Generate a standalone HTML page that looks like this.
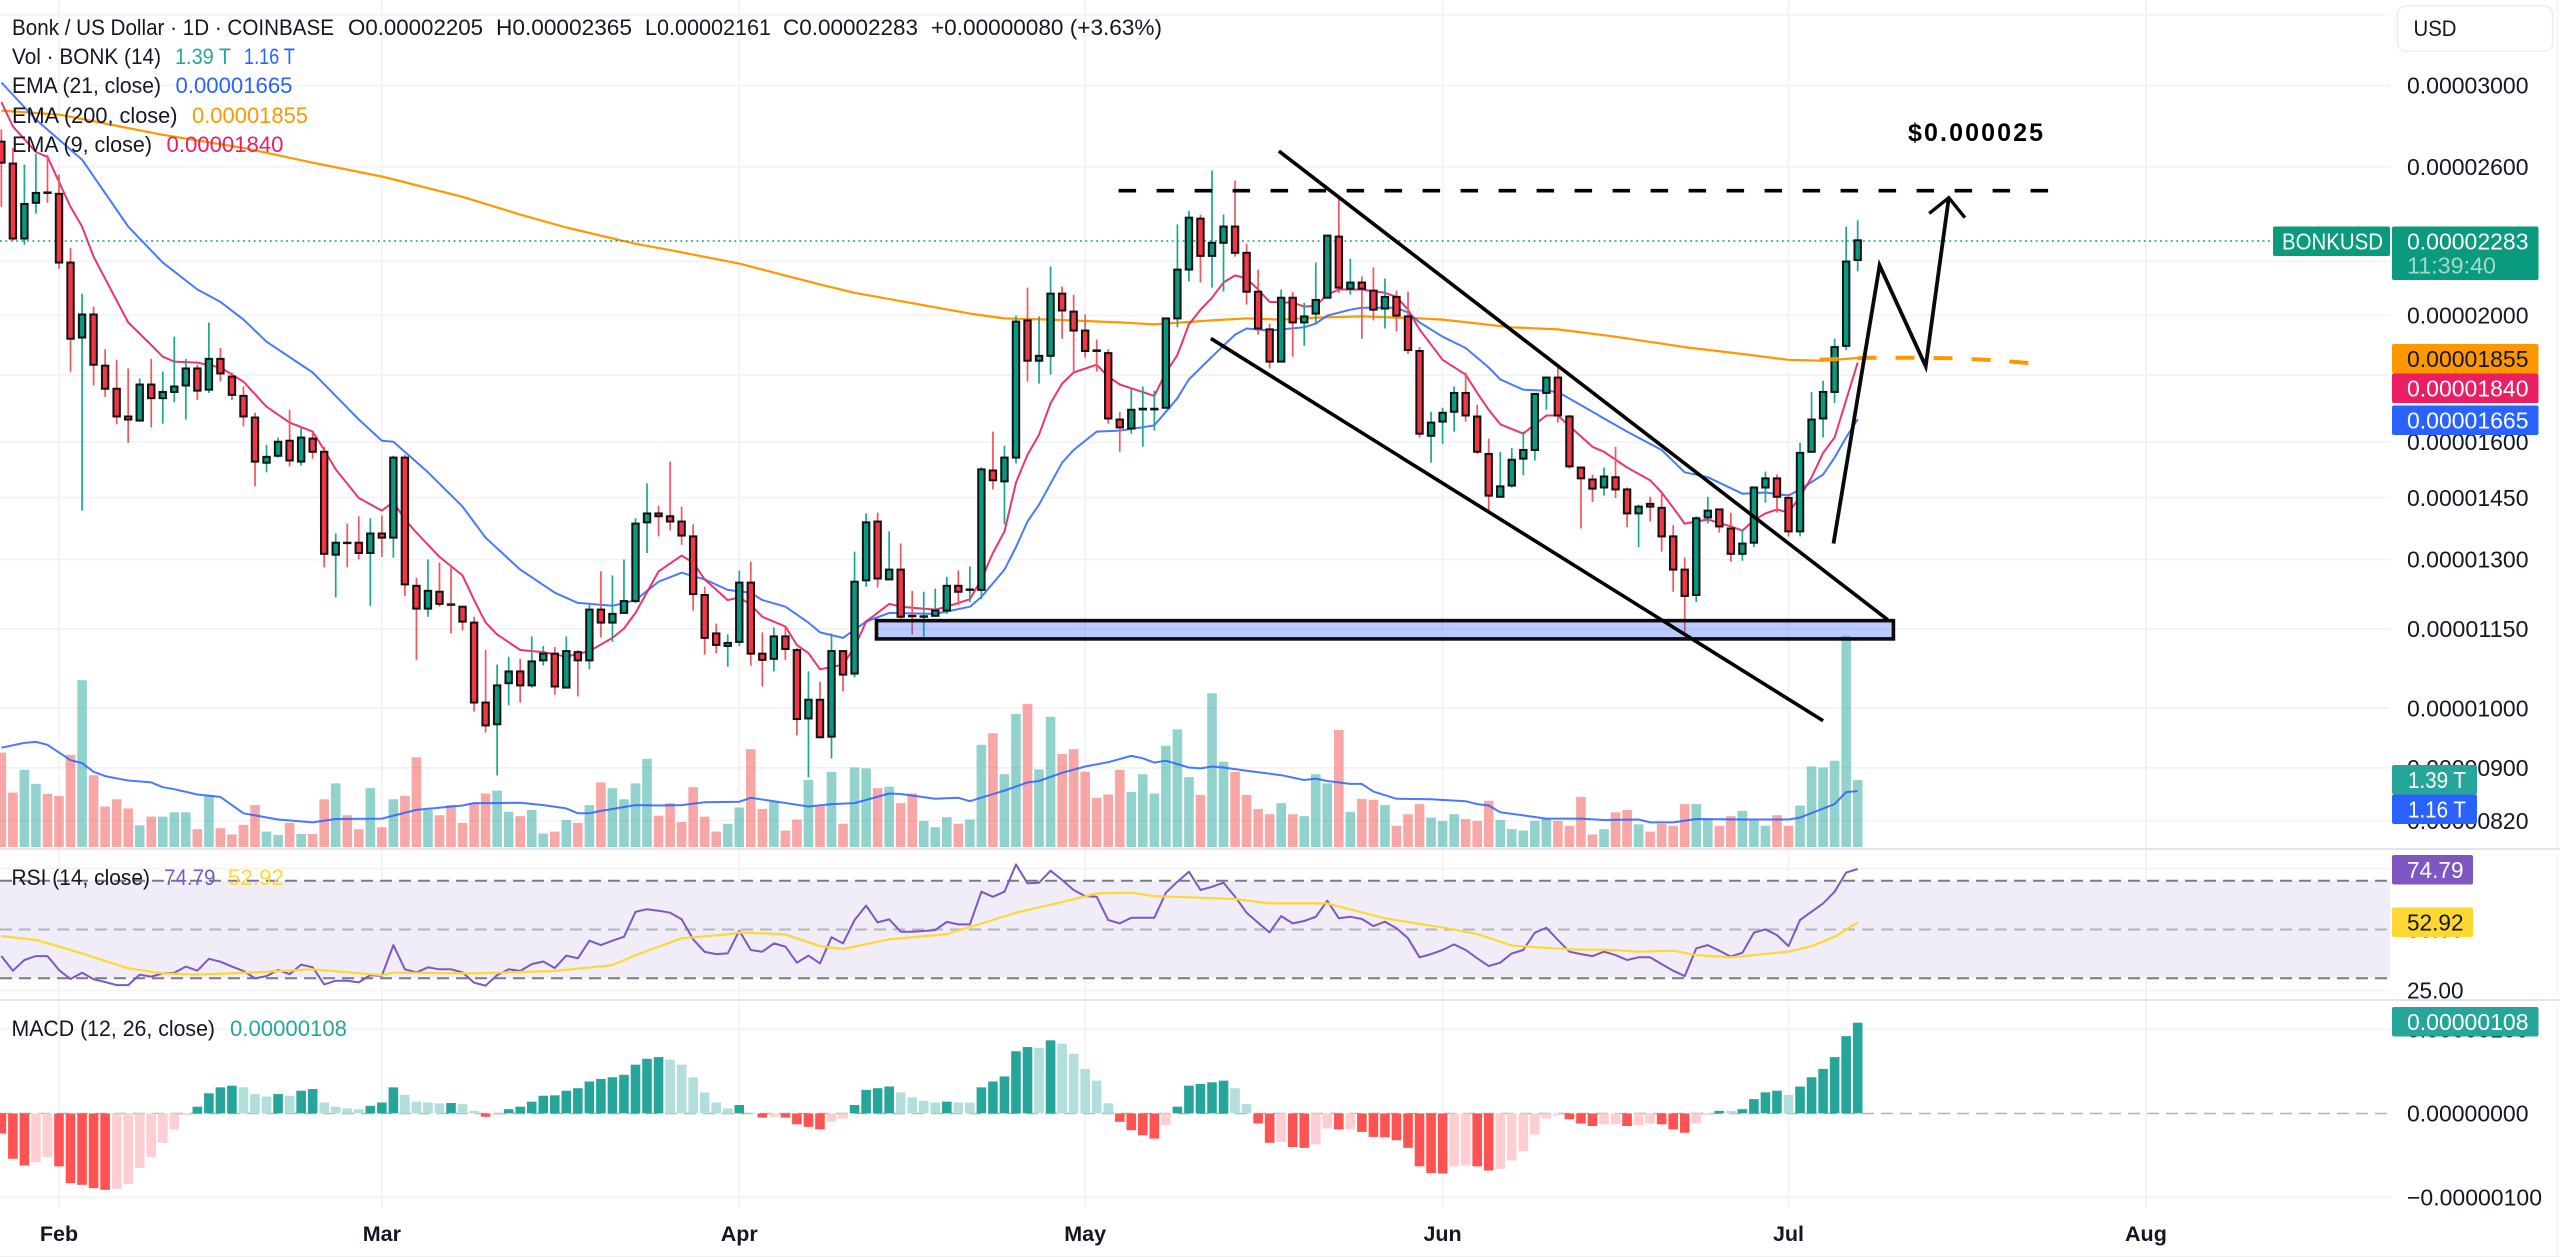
<!DOCTYPE html>
<html lang="en">
<head>
<meta charset="utf-8">
<title>Bonk / US Dollar chart</title>
<style>
html,body{margin:0;padding:0;background:#fff;}
svg{display:block;font-family:"Liberation Sans",sans-serif;}
text{fill:#131722;font-size:22px;}
</style>
</head>
<body>
<svg id="chart" xmlns="http://www.w3.org/2000/svg" width="2560" height="1257" viewBox="0 0 2560 1257">
<rect x="0" y="0" width="2560" height="1257" fill="#ffffff"/>
<g id="grid"></g>
<rect x="0" y="880.7" width="2390" height="97.6" fill="#f0edf8"/>
<g id="rsiLevels"></g>
<line x1="0" x2="2390" y1="1113.5" y2="1113.5" stroke="#b2b5be" stroke-width="1.6" stroke-dasharray="12 7"/>
<g id="volumeBars"></g>
<g id="lines"></g>
<line x1="0" x2="2273" y1="241" y2="241" stroke="#089981" stroke-width="1.6" stroke-dasharray="1.8 3.6"/>
<g id="candles"></g>
<g id="macdBars"></g>
<g id="rsiLines"></g>
<g id="drawings"></g>
<text x="1908" y="141" textLength="135" lengthAdjust="spacing" style="font-size:25px;font-weight:bold;fill:#000">$0.000025</text>

<g>
<text x="12" y="35" textLength="322" lengthAdjust="spacingAndGlyphs">Bonk / US Dollar · 1D · COINBASE</text>
<text x="348" y="35" textLength="135" lengthAdjust="spacingAndGlyphs">O0.00002205</text>
<text x="496" y="35" textLength="136" lengthAdjust="spacingAndGlyphs">H0.00002365</text>
<text x="645" y="35" textLength="126" lengthAdjust="spacingAndGlyphs">L0.00002161</text>
<text x="783" y="35" textLength="135" lengthAdjust="spacingAndGlyphs">C0.00002283</text>
<text x="931" y="35" textLength="231" lengthAdjust="spacingAndGlyphs">+0.00000080 (+3.63%)</text>
<text x="12" y="64" textLength="149" lengthAdjust="spacingAndGlyphs">Vol · BONK (14)</text>
<text x="175" y="64" textLength="56" lengthAdjust="spacingAndGlyphs" style="fill:#26a69a">1.39 T</text>
<text x="244" y="64" textLength="51" lengthAdjust="spacingAndGlyphs" style="fill:#2962ff">1.16 T</text>
<text x="12" y="93" textLength="149" lengthAdjust="spacingAndGlyphs">EMA (21, close)</text>
<text x="175.5" y="93" textLength="117" lengthAdjust="spacingAndGlyphs" style="fill:#2962ff">0.00001665</text>
<text x="12" y="123" textLength="165.5" lengthAdjust="spacingAndGlyphs">EMA (200, close)</text>
<text x="192" y="123" textLength="116" lengthAdjust="spacingAndGlyphs" style="fill:#ff9800">0.00001855</text>
<text x="12" y="152" textLength="140" lengthAdjust="spacingAndGlyphs">EMA (9, close)</text>
<text x="166.5" y="152" textLength="117" lengthAdjust="spacingAndGlyphs" style="fill:#e91e63">0.00001840</text>
</g>
<g>
<text x="11.5" y="885" textLength="138.5" lengthAdjust="spacingAndGlyphs">RSI (14, close)</text>
<text x="164" y="885" textLength="51.5" lengthAdjust="spacingAndGlyphs" style="fill:#7e57c2">74.79</text>
<text x="228" y="885" textLength="56" lengthAdjust="spacingAndGlyphs" style="fill:#fdd835">52.92</text>
</g>
<g>
<text x="11.5" y="1036" textLength="203.5" lengthAdjust="spacingAndGlyphs">MACD (12, 26, close)</text>
<text x="230" y="1036" textLength="117" lengthAdjust="spacingAndGlyphs" style="fill:#26a69a">0.00000108</text>
</g>

<g id="axisLabels"></g>

<rect x="2397.5" y="6" width="155" height="45" rx="8" fill="#fff" stroke="#ededf0" stroke-width="1.5"/>
<text x="2413.5" y="36" textLength="43" lengthAdjust="spacingAndGlyphs">USD</text>

<g>
<rect x="2273" y="226.5" width="117" height="29.5" rx="2" fill="#0a9a7e"/>
<text x="2282" y="249.5" textLength="101" lengthAdjust="spacingAndGlyphs" style="fill:#fff;font-size:23px">BONKUSD</text>
<rect x="2392" y="226.5" width="146.5" height="53.5" rx="2" fill="#0a9a7e"/>
<text x="2407" y="249.5" textLength="121.5" lengthAdjust="spacingAndGlyphs" style="fill:#fff;font-size:23px">0.00002283</text>
<text x="2407" y="273.5" textLength="89" lengthAdjust="spacingAndGlyphs" style="fill:#9fd9cb;font-size:23px">11:39:40</text>
<rect x="2392" y="344" width="146.5" height="29.5" rx="2" fill="#ff9800"/>
<text x="2407" y="367" textLength="121.5" lengthAdjust="spacingAndGlyphs" style="fill:#131722;font-size:23px">0.00001855</text>
<rect x="2392" y="373.5" width="146.5" height="29.5" rx="2" fill="#e91e63"/>
<text x="2407" y="396.5" textLength="121.5" lengthAdjust="spacingAndGlyphs" style="fill:#fff;font-size:23px">0.00001840</text>
<rect x="2392" y="405.5" width="146.5" height="29.5" rx="2" fill="#2962ff"/>
<text x="2407" y="428.5" textLength="121.5" lengthAdjust="spacingAndGlyphs" style="fill:#fff;font-size:23px">0.00001665</text>
<rect x="2392" y="765" width="85" height="29.5" rx="2" fill="#26a69a"/>
<text x="2408" y="788" textLength="58" lengthAdjust="spacingAndGlyphs" style="fill:#fff;font-size:23px">1.39 T</text>
<rect x="2392" y="794.5" width="85" height="29.5" rx="2" fill="#2962ff"/>
<text x="2408" y="817.5" textLength="58" lengthAdjust="spacingAndGlyphs" style="fill:#fff;font-size:23px">1.16 T</text>
<rect x="2392" y="855" width="81" height="29.5" rx="2" fill="#7e57c2"/>
<text x="2407" y="878" textLength="56.5" lengthAdjust="spacingAndGlyphs" style="fill:#fff;font-size:23px">74.79</text>
<rect x="2392" y="907.5" width="81" height="29.5" rx="2" fill="#fdd835"/>
<text x="2407" y="930.5" textLength="56.5" lengthAdjust="spacingAndGlyphs" style="fill:#131722;font-size:23px">52.92</text>
<rect x="2392" y="1007" width="146.5" height="29.5" rx="2" fill="#26a69a"/>
<text x="2407" y="1030" textLength="121.5" lengthAdjust="spacingAndGlyphs" style="fill:#fff;font-size:23px">0.00000108</text>
</g>

<line x1="0" x2="2560" y1="849" y2="849" stroke="#e4e4ee" stroke-width="2"/>
<line x1="0" x2="2560" y1="1000" y2="1000" stroke="#e4e4ee" stroke-width="2"/>
<line x1="0" x2="2560" y1="1256.5" y2="1256.5" stroke="#f0f0f3" stroke-width="1"/>
<line x1="2557.5" x2="2557.5" y1="0" y2="1257" stroke="#f3f3f5" stroke-width="1"/>
</svg>

<script>
// All prices are in units of 0.00000001 USD. Index 0 of each daily array is 27 Jan (day -5 relative to 1 Feb).
const firstDay = -5;
const opens = [
2717,2614,2290,2439,2484,2478,2195,1923,2003,1830,
1757,1673,1661,1770,1728,1747,1767,1821,1754,1852,
1795,1735,1670,1542,1561,1603,1545,1609,1572,1311,
1339,1339,1315,1361,1351,1556,1241,1192,1228,1201,
1196,1163,1010,972,1045,1067,1041,1088,1101,1037,
1104,1088,1190,1163,1183,1208,1388,1410,1403,1390,
1354,1221,1141,1116,1124,1248,1101,1091,1135,1108,
982,1015,951,1106,1063,1253,1390,1255,1277,1177,
1175,1177,1188,1241,1232,1232,1521,1492,1556,1982,
1846,1862,2078,2013,1947,1880,1871,1664,1638,1694,
1694,1699,1989,2168,2372,2221,2273,2339,2233,2085,
1951,1843,2063,1975,2006,2063,2298,2096,2119,2089,
2024,2066,1996,1878,1617,1658,1687,1744,1673,1566,
1452,1481,1553,1577,1744,1792,1673,1529,1497,1476,
1503,1471,1410,1434,1424,1354,1277,1221,1400,1420,
1373,1313,1339,1476,1500,1449,1366,1572,1667,1747,1895,2205];
const highs = [
2776,2687,2609,2659,2654,2564,2252,2078,2031,1884,
1849,1821,1789,1852,1811,1926,1852,1833,1975,1888,
1808,1764,1684,1591,1612,1693,1644,1629,1586,1361,
1385,1403,1398,1405,1561,1564,1259,1300,1293,1288,
1198,1175,1108,1080,1095,1091,1135,1116,1114,1135,
1108,1200,1273,1264,1300,1398,1487,1429,1545,1427,
1383,1239,1161,1139,1275,1295,1143,1153,1153,1112,
1067,1048,1141,1108,1318,1410,1412,1366,1337,1230,
1228,1235,1261,1275,1284,1529,1629,1589,1999,2100,
1996,2180,2104,2074,2003,1916,1884,1687,1757,1764,
1751,1989,2348,2405,2389,2582,2389,2537,2269,2168,
1971,2093,2085,2045,2195,2302,2465,2210,2142,2176,
2134,2089,2085,1891,1687,1699,1764,1808,1708,1609,
1572,1583,1629,1741,1795,1830,1678,1529,1510,1529,
1586,1476,1432,1452,1463,1381,1304,1403,1452,1422,
1412,1371,1479,1518,1510,1460,1597,1747,1782,1919,2339,2365];
const lows = [
2422,2281,2265,2393,2439,2172,1811,1417,1767,1732,
1650,1597,1658,1641,1652,1716,1664,1722,1744,1779,
1722,1644,1479,1516,1556,1532,1534,1553,1282,1216,
1282,1300,1198,1306,1304,1219,1089,1175,1196,1141,
1147,994,958,888,1005,1010,1037,1078,1024,1037,
1021,1071,1133,1124,1183,1204,1315,1354,1368,1334,
1188,1099,1102,1076,1116,1078,1039,1067,1089,953,
885,948,915,1030,1056,1239,1237,1255,1171,1139,
1135,1175,1181,1200,1206,1212,1471,1383,1540,1779,
1773,1801,1919,1808,1856,1811,1652,1572,1623,1586,
1632,1699,1958,2123,2119,2100,2085,2218,2038,1933,
1821,1843,1859,1895,1968,2063,2081,2074,1919,1982,
1954,1944,1868,1612,1542,1594,1629,1658,1566,1412,
1452,1476,1508,1548,1693,1655,1526,1373,1439,1455,
1449,1376,1329,1390,1318,1228,1143,1206,1385,1363,
1295,1297,1329,1437,1412,1354,1354,1569,1612,1713,1881,2161];
const closes = [
2618,2290,2434,2482,2482,2195,1919,2003,1833,1757,
1673,1664,1770,1728,1747,1764,1821,1751,1852,1805,
1738,1673,1545,1558,1600,1548,1612,1572,1313,1339,
1338,1315,1361,1351,1556,1244,1192,1230,1202,1200,
1165,1010,970,1041,1067,1041,1086,1101,1039,1106,
1088,1190,1163,1181,1208,1385,1410,1403,1390,1356,
1223,1132,1118,1122,1248,1101,1089,1135,1110,981,
1015,950,1106,1061,1250,1388,1257,1277,1175,1176,
1176,1188,1241,1228,1233,1524,1495,1556,1978,1846,
1862,2078,2017,1947,1878,1878,1667,1641,1693,1696,
1696,1989,2168,2376,2221,2273,2339,2233,2085,1954,
1843,2063,1975,1996,2055,2302,2100,2119,2096,2020,
2066,1999,1881,1623,1655,1684,1744,1676,1572,1455,
1479,1550,1577,1741,1792,1676,1532,1500,1473,1505,
1471,1410,1427,1427,1354,1277,1219,1398,1417,1378,
1313,1337,1476,1500,1452,1366,1569,1664,1747,1891,2199,2283];
// Volume in trillions
const volumes = [
1.96,1.13,1.60,1.31,1.10,1.06,1.91,3.46,1.49,.84,
.99,.80,.45,.63,.63,.72,.72,.37,1.08,.39,
.26,.46,.87,.32,.25,.50,.27,.27,.99,1.32,
.66,.37,1.22,.41,.99,1.06,1.86,.77,.66,.87,
.50,.92,1.11,1.17,.73,.64,.77,.28,.32,.56,
.50,.87,1.34,1.22,.99,1.32,1.83,.65,.91,.52,
1.24,.63,.32,.48,.82,2.03,.79,.94,.34,.57,
1.39,.85,1.56,.48,1.65,1.63,1.22,1.25,.91,1.11,
.54,.41,.62,.48,.57,2.12,2.36,1.51,2.76,2.97,
1.61,2.70,1.93,2.03,1.56,1.02,1.09,1.60,1.14,1.51,
1.11,2.10,2.44,1.45,1.08,3.19,1.77,1.56,1.08,.79,
.68,.91,.68,.64,1.51,1.32,2.43,.73,1.00,.98,
.87,.44,.68,.89,.61,.54,.68,.58,.54,.96,
.56,.37,.34,.54,.59,.54,.44,1.04,.26,.37,
.72,.77,.47,.32,.48,.44,.89,.89,.59,.44,
.64,.75,.55,.44,.66,.44,.86,1.67,1.65,1.79,4.38,1.39];
const rsiValues = [
39.1,33.1,37.5,39.1,39.1,33.4,29.7,32.3,29.6,28.5,
27.2,27.2,31.5,30.7,32,32.3,34.8,33.1,38,36.8,
34.8,33,30,30.9,33.4,31.7,35.6,34.5,27.5,29,
29,28.3,31.3,31,43.6,33.7,32.4,34.5,33.7,33.7,
32.4,28.2,27,31.3,33.7,33,35.8,36.9,34.2,39.3,
38.2,45.4,43.6,45.4,47,57.2,58.3,57.7,56.9,54.2,
46,40.8,39.9,40.2,49.5,41.6,40.9,44.3,43,36.4,
39.3,36.1,46.8,44.3,53.9,59.8,52.9,54.2,49.1,49.1,
49.4,49.8,53.1,52.1,52.1,65.5,63.4,65.5,76.7,68.9,
69.2,74.1,70.3,66.2,63.7,63.4,53.9,52.5,54.8,54.8,
54.8,65.1,69.6,73.7,66.2,67.5,69.2,63.4,56.9,52.8,
48.8,55.5,52.5,53.5,55.2,61.8,54.6,55.2,54.3,51.4,
53.2,50.5,46.4,38.6,39.9,41.6,43.9,41.6,38.2,35,
36.4,40.2,41.6,48.7,50.7,45.7,40.9,39.9,39.1,40.9,
39.5,37.5,38.6,38.6,35.8,33.1,30.9,42.3,43.6,41.3,
38.9,40.5,48.7,50.1,47.7,43.2,53.9,57.3,60.7,65.5,73.3,74.79];
// MACD histogram, in units of 0.00000001
const macdValues = [
-24,-54,-62,-58,-52,-63,-83,-85,-89,-91,
-90,-84,-65,-52,-35,-19,-2,8,24,31,
33,31,23,20,23,21,27,29,13,8,
6,5,9,13,31,22,14,13,12,12.4,
11,3,-4,-2,5,8,14,21,21.5,27,
30,38,41,43,46,58,65,67,64,58,
43,25,13,6,10,1,-5,-4,-5,-13,
-16,-19,-10,-6,10,28,30,32,25,19,
15,13,14,13,13,31,38,44,74,79,
78,87,83,71,53,39,12,-10,-20,-26,
-30,-14,8,33,35,37,39,30,11,-12,
-35,-34,-40,-41,-37,-18,-19,-19,-22,-28,
-28.5,-32,-41,-63,-71,-71.5,-63,-62,-63,-68,
-66,-56,-45,-25,-6,-2,-7,-12,-15,-13,
-13,-15,-14,-12,-13,-19,-23,-12,-2,3,
3,5,17,25,27,22,32,43,53,67,92,108];

// Overlay series, sampled at the visible turning points: day numbers + values
const ema21Days = [-5,-2,2,6,9,12,14,16,18,22,26,28,29,32,35,37,40,43,45,48,50,52,54,56,58,60,61,63,65,66,68,70,72,76,79,80,82,83,84,85,87,88,90,92,95,97,98,100,102,103,105,108,109,110,112,113,116,117,118,120,122,124,125,127,129,130,133,134,136,139,141,143,146,148,150,151,153,154,155,156];
const ema21Values = [3016,2825,2632,2339,2195,2093,2048,1985,1909,1808,1664,1603,1600,1516,1427,1351,1277,1226,1204,1198,1210,1250,1270,1255,1232,1226,1210,1196,1163,1143,1132,1165,1183,1181,1196,1217,1277,1329,1390,1432,1542,1577,1629,1632,1647,1728,1786,1859,1933,1954,1947,1958,1971,1999,2020,2027,2027,2010,1975,1926,1888,1824,1786,1754,1751,1747,1687,1667,1629,1577,1516,1503,1460,1463,1455,1471,1510,1556,1612,1665];
const ema9Days = [-5,-4,-2,-1,1,2,3,6,8,9,10,12,14,16,18,20,22,23,24,26,28,29,30,31,33,35,36,37,38,40,42,44,46,48,49,50,52,54,55,56,58,59,60,61,63,64,65,66,68,69,70,72,73,76,77,79,80,81,82,83,84,85,86,87,88,90,91,92,95,96,97,98,99,100,101,102,103,104,105,107,108,109,110,111,113,115,116,117,118,120,122,123,124,125,127,128,129,130,132,133,134,136,138,139,140,141,143,145,146,147,148,149,150,151,152,153,154,155,156];
const ema9Values = [2914,2791,2668,2645,2422,2339,2218,1975,1898,1859,1843,1840,1824,1779,1702,1655,1629,1577,1524,1449,1417,1439,1395,1363,1306,1264,1210,1163,1139,1108,1104,1095,1106,1132,1151,1183,1273,1309,1293,1255,1210,1216,1200,1175,1155,1118,1102,1071,1080,1114,1165,1202,1196,1190,1196,1212,1255,1315,1366,1489,1564,1620,1713,1773,1808,1833,1795,1770,1735,1808,1865,1968,2020,2063,2119,2146,2134,2093,2048,2045,2031,2034,2074,2093,2093,2081,2066,2020,1951,1849,1801,1744,1693,1650,1623,1650,1676,1676,1615,1586,1572,1529,1495,1463,1424,1385,1395,1378,1368,1393,1410,1420,1412,1452,1503,1569,1612,1722,1840];
const ema200Days = [-5,0,9,16,22,28,35,40,44,50,53,59,66,69,79,82,86,92,95,100,103,106,109,113,118,120,126,130,135,141,146,150,153,156];
const ema200Values = [2870,2850,2750,2687,2618,2555,2465,2389,2335,2269,2244,2191,2112,2081,2006,1989,1985,1975,1968,1982,1989,1985,1992,1996,1989,1985,1958,1951,1926,1891,1868,1849,1846,1855];
const volumeMaDays = [-5,-3,-2,-1,1,2,3,4,6,8,9,10,12,14,16,19,22,24,28,31,35,36,38,40,42,44,45,46,47,50,52,54,56,59,60,62,65,67,69,72,73,76,78,79,82,84,85,87,89,91,93,94,95,96,98,99,100,101,103,106,108,109,110,112,113,114,116,119,122,123,124,125,129,132,134,137,138,140,142,146,150,151,154,155,156];
const volumeMaValues = [2.06,2.16,2.18,2.12,1.80,1.74,1.56,1.47,1.38,1.34,1.24,1.20,1.09,1.04,.70,.57,.51,.58,.59,.77,.86,.91,.91,.92,.87,.80,.70,.70,.75,.87,.86,.87,.93,.94,1.02,.95,.84,.89,.91,1.11,1.10,1.00,1.02,.95,1.17,1.34,1.37,1.54,1.67,1.76,1.89,1.84,1.75,1.79,1.65,1.63,1.67,1.65,1.58,1.49,1.39,1.42,1.37,1.31,1.31,1.15,1.00,.99,.95,.89,.86,.72,.59,.59,.56,.57,.51,.51,.58,.57,.57,.61,.89,1.14,1.16];
const rsiMaDays = [-5,-2,0,2,6,9,12,17,22,28,29,36,43,48,50,54,58,59,63,66,68,72,77,81,83,86.5,90,93,95,98,102,105,110,115,120.4,123,126,131,135,137,140,142,145,150,152,154,156];
const rsiMaValues = [47.3,45.7,43,40.2,34.1,32,31.5,32.4,33.7,31.3,32.3,32,33,35.4,39.5,46.4,48,48.8,48,43.2,42,46,48.1,53.9,56.9,60.7,64.8,65.1,63.7,63.2,62.5,60.7,60.7,54.6,50.5,48.1,43.4,41.9,41.6,40.9,41.3,39.5,38.6,40.9,43.2,47,52.92];

// Drawing tools anchored in day / price space
const resistancePrice = [2492];
const resistanceDays = [91.9,172.6];
const upperChannelDays = [105.8,158.6];
const upperChannelPrices = [2672,1169];
const lowerChannelDays = [99.9,153];
const lowerChannelPrices = [1920,978];
const arrowDays = [153.9,157.9,161.9,163.9];
const arrowPrices = [1337,2184,1828,2461];
const arrowHeadDays = [162.2,163.9,165.3];
const arrowHeadPrices = [2394,2461,2376];
const supportDays = [70.9,159.1];
const supportPrices = [1167,1130];
const projectionDays = [152.7,157.1,161.1,164.4,167.7,171];
const projectionPrices = [1849,1856,1856,1854,1848,1838];

// Axis ticks
const priceTicks = [3400,3000,2600,2200,2000,1800,1600,1450,1300,1150,1000,900,820];
const labelledPriceTicks = [3000,2600,2000,1600,1450,1300,1150,1000,900,820];
const rsiGridTicks = [75,25];
const rsiLevels = [70,50,30];
const rsiAxisLabels = ['75.00','50.00','25.00'];
const rsiAxisTicks = [75,50,25];
const macdGridTicks = [100,-100];
const macdAxisTicks = [100,0,-100];
const monthLabels = ['Feb','Mar','Apr','May','Jun','Jul','Aug'];
const monthDays = [0,28,59,89,120,150,181];

// Axis functions
function xDay(d){return 59+11.53*d;}
function yPrice(p){return 315.3+566.8*Math.log(2000/p);}
function yVolume(v){return 847-48.2*v;}
function yRsi(r){return 880.7+(70-r)*2.44;}
function yMacd(m){return 1113.4-0.84*m;}
function pricePoints(days,vals){return days.map(function(d,i){return xDay(d).toFixed(1)+','+yPrice(vals[i]).toFixed(1);}).join(' ');}

const NS='http://www.w3.org/2000/svg';
function mk(tag,attrs,parent){
  const e=document.createElementNS(NS,tag);
  for(const k in attrs){e.setAttribute(k,attrs[k]);}
  parent.appendChild(e);
  return e;
}
function fmtPrice(p){
  const neg=p<0;
  const s=Math.abs(p/1e8).toFixed(8);
  return (neg?'\u2212':'')+s;
}
const $=function(id){return document.getElementById(id);};
let el;

// Grid
const gridG=$('grid');
monthDays.forEach(function(d){
  el=mk('line',{x1:xDay(d),x2:xDay(d),y1:0,y2:1207,stroke:'#f3f3f6','stroke-width':1.8},gridG);
  
  
});
priceTicks.forEach(function(p){
  el=mk('line',{x1:0,x2:2390,y1:yPrice(p),y2:yPrice(p),stroke:'#f3f3f6','stroke-width':1.8},gridG);
  
  
});
rsiGridTicks.forEach(function(r){
  el=mk('line',{x1:0,x2:2390,y1:yRsi(r),y2:yRsi(r),stroke:'#f3f3f6','stroke-width':1.8},gridG);
  
  
});
macdGridTicks.forEach(function(m){
  el=mk('line',{x1:0,x2:2390,y1:yMacd(m),y2:yMacd(m),stroke:'#f3f3f6','stroke-width':1.8},gridG);
  
  
});

// RSI levels
rsiLevels.forEach(function(r){
  el=mk('line',{x1:0,x2:2390,y1:yRsi(r),y2:yRsi(r),stroke:r===50?'#b2b5be':'#787b86','stroke-width':2,'stroke-dasharray':'12 7'},$('rsiLevels'));
  
  
});

// Volume
volumes.forEach(function(v,i){
  const d=firstDay+i, up=closes[i]>=opens[i], top=yVolume(v);
  el=mk('rect',{x:xDay(d)-4.8,y:top,width:9.6,height:yVolume(0)-top,fill:up?'rgba(38,166,154,.5)':'rgba(242,80,80,.5)'},$('volumeBars'));
  
  
});
el=mk('polyline',{points:volumeMaDays.map(function(d,i){return xDay(d).toFixed(1)+','+yVolume(volumeMaValues[i]).toFixed(1);}).join(' '),fill:'none',stroke:'#2962ff','stroke-width':2,'stroke-linejoin':'round',opacity:.85},$('volumeBars'));



// EMAs
el=mk('polyline',{points:pricePoints(ema200Days,ema200Values),fill:'none',stroke:'#ff9800','stroke-width':2.2,'stroke-linejoin':'round'},$('lines'));


el=mk('polyline',{points:pricePoints(ema21Days,ema21Values),fill:'none',stroke:'#2962ff','stroke-width':2,'stroke-linejoin':'round',opacity:.85},$('lines'));


el=mk('polyline',{points:pricePoints(ema9Days,ema9Values),fill:'none',stroke:'#e91e63','stroke-width':2,'stroke-linejoin':'round',opacity:.9},$('lines'));



// Candles
opens.forEach(function(o,i){
  const d=firstDay+i, c=closes[i], up=c>=o, x=xDay(d);
  const top=yPrice(Math.max(o,c)), bot=yPrice(Math.min(o,c));
  el=mk('line',{x1:x,x2:x,y1:yPrice(highs[i]),y2:yPrice(lows[i]),stroke:up?'#1aa78f':'#f7525f','stroke-width':1.7},$('candles'));
  
  
  el=mk('rect',{x:x-3.2,y:top,width:6.4,height:Math.max(bot-top,0.4),fill:up?'#089981':'#f23645',stroke:'#131313','stroke-width':2},$('candles'));
  
  
});

// MACD histogram
macdValues.forEach(function(m,i){
  const d=firstDay+i, prev=i>0?macdValues[i-1]:m-1;
  let colour;
  if(m>=0){colour=m>prev?'#26a69a':'#b2dfdb';}
  else{colour=m<prev||i===0?'#ff5252':'#ffcdd2';}
  const y0=yMacd(0), y1=yMacd(m);
  el=mk('rect',{x:xDay(d)-4.8,y:Math.min(y0,y1),width:9.6,height:Math.abs(y1-y0),fill:colour},$('macdBars'));
  
  
});

// RSI
el=mk('polyline',{points:rsiValues.map(function(r,i){return xDay(firstDay+i).toFixed(1)+','+yRsi(r).toFixed(1);}).join(' '),fill:'none',stroke:'#7e57c2','stroke-width':2,'stroke-linejoin':'round'},$('rsiLines'));


el=mk('polyline',{points:rsiMaDays.map(function(d,i){return xDay(d).toFixed(1)+','+yRsi(rsiMaValues[i]).toFixed(1);}).join(' '),fill:'none',stroke:'#fdd835','stroke-width':2.2,'stroke-linejoin':'round'},$('rsiLines'));



// Drawings
const dr=$('drawings');
el=mk('rect',{x:xDay(supportDays[0]),y:yPrice(supportPrices[0]),width:xDay(supportDays[1])-xDay(supportDays[0]),height:yPrice(supportPrices[1])-yPrice(supportPrices[0]),fill:'rgba(41,98,255,.33)',stroke:'#0a0a0a','stroke-width':3.6},dr);


el=mk('line',{x1:xDay(resistanceDays[0]),x2:xDay(resistanceDays[1]),y1:yPrice(resistancePrice[0]),y2:yPrice(resistancePrice[0]),stroke:'#000','stroke-width':3.6,'stroke-dasharray':'17.5 20.5'},dr);


el=mk('line',{x1:xDay(upperChannelDays[0]),x2:xDay(upperChannelDays[1]),y1:yPrice(upperChannelPrices[0]),y2:yPrice(upperChannelPrices[1]),stroke:'#000','stroke-width':3.6},dr);


el=mk('line',{x1:xDay(lowerChannelDays[0]),x2:xDay(lowerChannelDays[1]),y1:yPrice(lowerChannelPrices[0]),y2:yPrice(lowerChannelPrices[1]),stroke:'#000','stroke-width':3.6},dr);


el=mk('polyline',{points:pricePoints(projectionDays,projectionPrices),fill:'none',stroke:'#ff9800','stroke-width':4,'stroke-dasharray':'19 19'},dr);


el=mk('polyline',{points:pricePoints(arrowDays,arrowPrices),fill:'none',stroke:'#0a0a0a','stroke-width':3.8,'stroke-linejoin':'miter'},dr);


el=mk('polyline',{points:pricePoints(arrowHeadDays,arrowHeadPrices),fill:'none',stroke:'#0a0a0a','stroke-width':3.4},dr);



// Axis labels
const al=$('axisLabels');
labelledPriceTicks.forEach(function(p){
  el=mk('text',{x:2407,y:yPrice(p)+8.2,textLength:121.5,lengthAdjust:'spacingAndGlyphs',style:'font-size:23px'},al);
  el.textContent=fmtPrice(p);
  
  
});
rsiAxisTicks.forEach(function(r,i){
  el=mk('text',{x:2407,y:yRsi(r)+8.2,textLength:56.5,lengthAdjust:'spacingAndGlyphs',style:'font-size:23px'},al);
  el.textContent=rsiAxisLabels[i];
  
  
});
macdAxisTicks.forEach(function(m){
  const neg=m<0;
  el=mk('text',{x:2407,y:yMacd(m)+8.2,textLength:neg?135:121.5,lengthAdjust:'spacingAndGlyphs',style:'font-size:23px'},al);
  el.textContent=fmtPrice(m);
  
  
});
monthLabels.forEach(function(m,i){
  el=mk('text',{x:xDay(monthDays[i]),y:1241,'text-anchor':'middle',style:'font-size:21.5px;font-weight:bold'},al);
  el.textContent=m;
  
  
});
</script>
</body>
</html>
